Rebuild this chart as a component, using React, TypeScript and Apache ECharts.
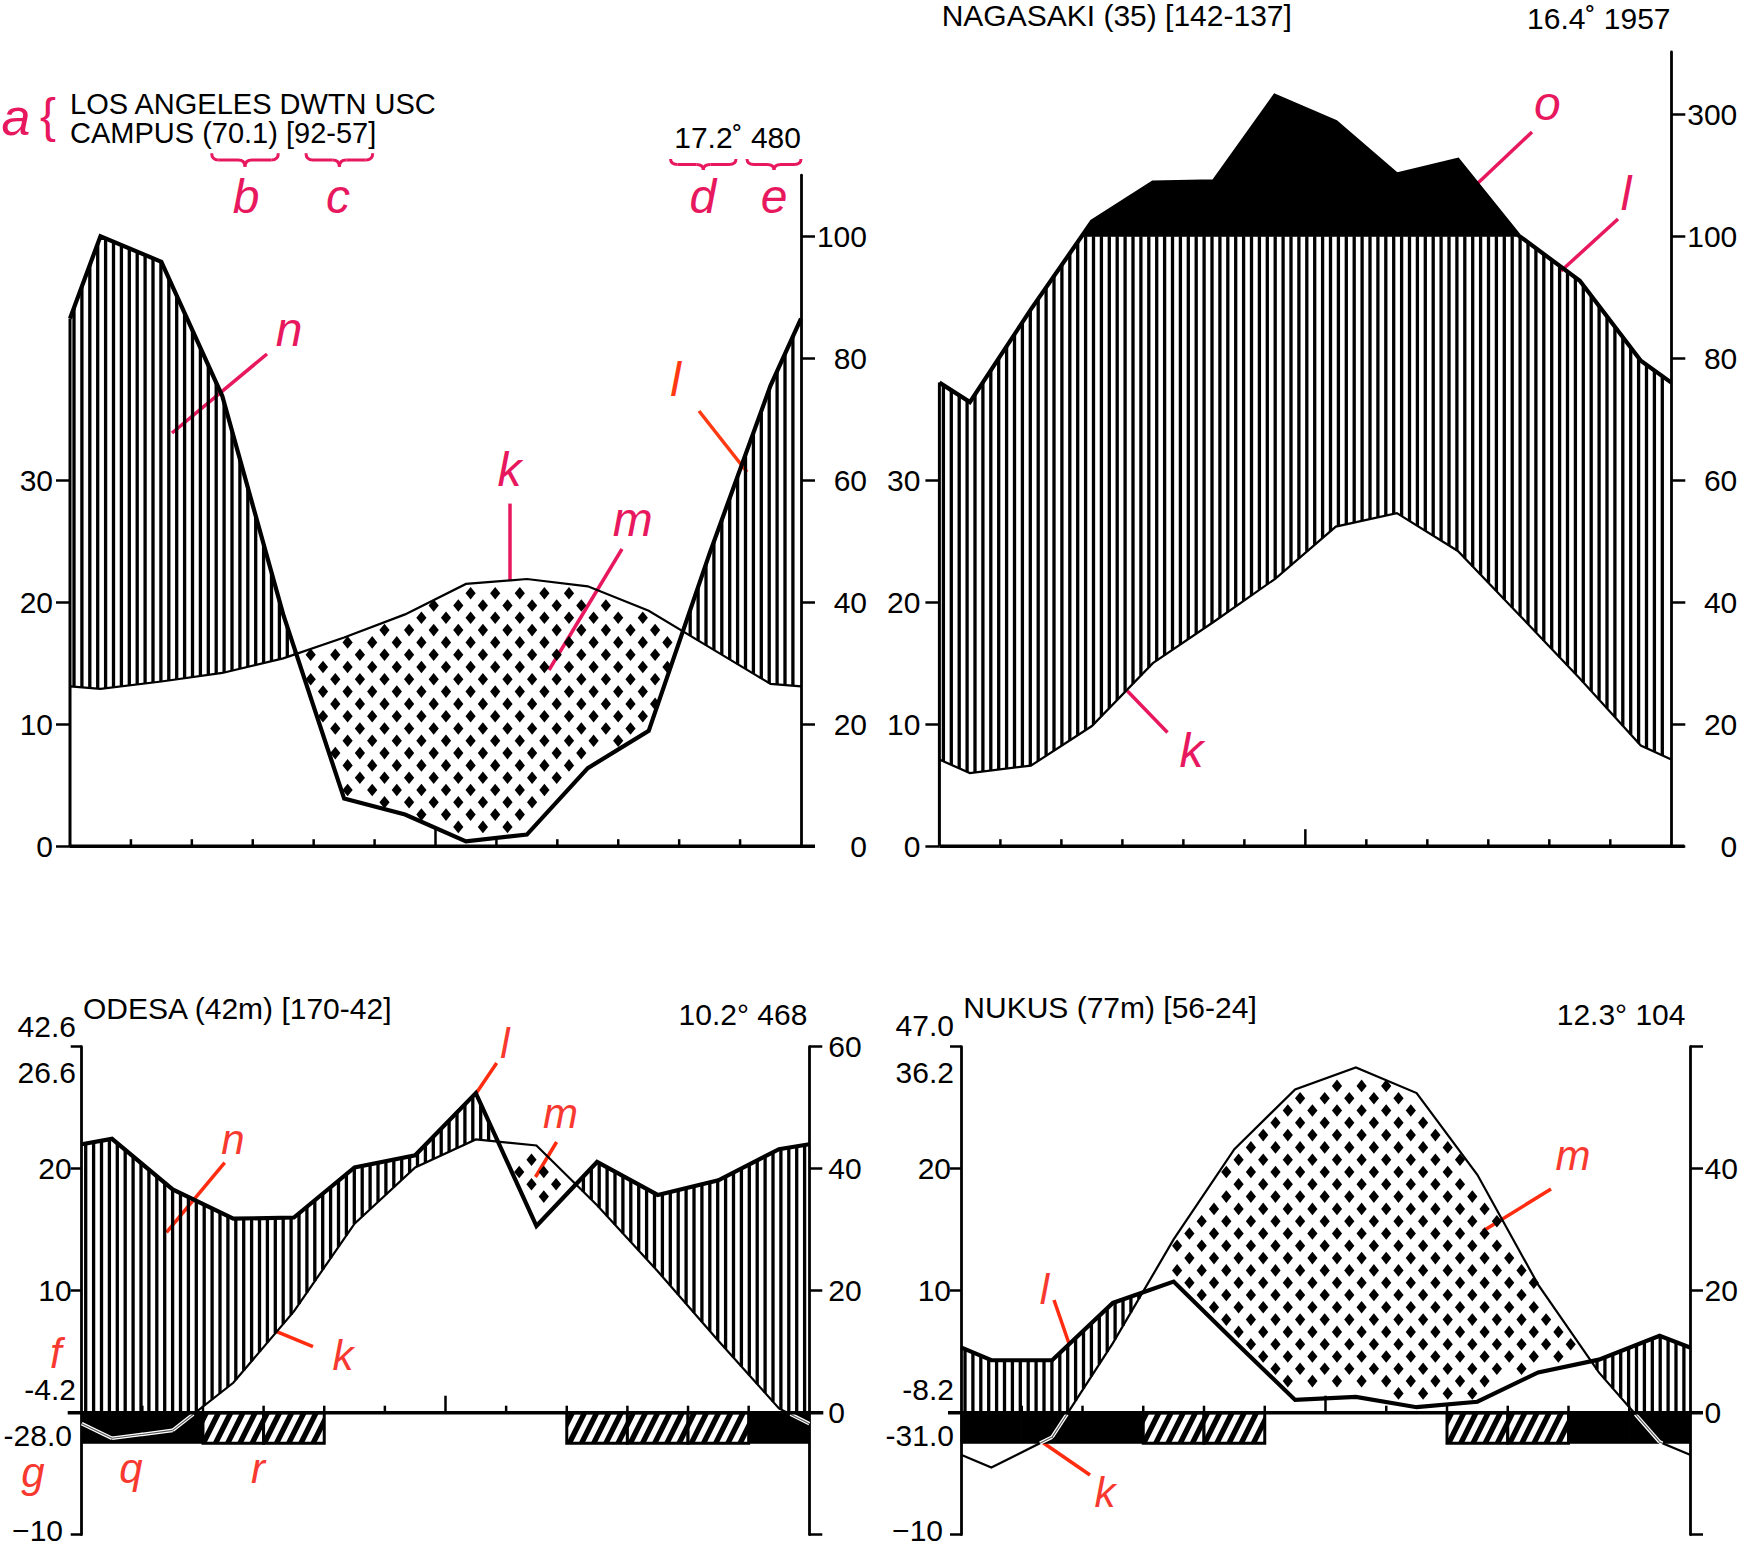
import React, { useEffect, useRef } from 'react';
import * as echarts from 'echarts';

const FONT = '"Liberation Sans", Arial, Helvetica, sans-serif';
const PINK = '#e8185e';
const ORANGE = '#ff3a12';
const RED = '#f8392f';
const RED_LINE = '#ff2c10';

// ---------------- data ----------------
const monthMid = [0.5, 1.5, 2.5, 3.5, 4.5, 5.5, 6.5, 7.5, 8.5, 9.5, 10.5, 11.5];

// Los Angeles: monthly mean temperature (°C) and precipitation (mm)
const laTemp = [12.9, 13.5, 14.2, 15.4, 17.1, 19.0, 21.5, 21.9, 21.3, 19.3, 16.3, 13.3];
const laPrec = [100, 95.8, 73.8, 38, 7.8, 5.2, 0.8, 1.9, 12.8, 18.9, 48, 75.5];
const laEdge = [13.1, 86.5]; // value drawn at both year edges [temp, prec]

// Nagasaki
const ngTemp = [6.0, 6.6, 9.85, 15.0, 18.4, 21.9, 26.2, 27.3, 24.2, 19.0, 13.75, 8.25];
const ngPrec = [72.8, 88, 124, 188, 190, 330, 287, 201, 225, 101, 92.7, 79.6];
const ngEdge = [7.1, 76];

// Odesa
const odTemp = [-2.1, -1.45, 2.45, 8.3, 15.5, 20.1, 22.4, 21.9, 17.0, 11.6, 5.9, 0.35];
const odPrec = [44.9, 36.6, 31.8, 32.0, 40.2, 42.2, 52.4, 30.6, 41.1, 35.7, 38.1, 43.2];
const odEdge = [-0.9, 44];
const odFrost = ['b', 'b', 'h', 'h', '', '', '', '', 'h', 'h', 'h', 'b'];

// Nukus
const nkTemp = [-4.5, -2.0, 5.7, 14.2, 21.6, 26.5, 28.3, 26.2, 19.5, 10.5, 3.3, -2.4];
const nkPrec = [8.6, 8.6, 18, 21.5, 11.7, 2.1, 2.6, 0.9, 1.8, 6.6, 8.7, 12.6];
const nkEdge = [-3.45, 10.7];
const nkFrost = ['b', 'b', 'b', 'h', 'h', '', '', '', 'h', 'h', 'b', 'b'];

// precipitation -> temperature units (10°C = 20 mm, above 100 mm reduced 1:10)
const toU = (p: number) => (p <= 100 ? p / 2 : 50 + (p - 100) / 20);
const uLabel = (u: number) => String(Math.round(u <= 50 ? u * 2 : 100 + (u - 50) * 20));

// ---------------- geometry helpers ----------------
function regions(px: number[], a: number[], b: number[]) {
  const polys: number[][][] = [];
  let up: number[][] = [], lo: number[][] = [];
  for (let i = 0; i < px.length; i++) {
    const d = a[i] - b[i];
    if (d > 0) { up.push([px[i], a[i]]); lo.push([px[i], b[i]]); }
    if (i < px.length - 1) {
      const d2 = a[i + 1] - b[i + 1];
      if ((d > 0) !== (d2 > 0) && d !== d2) {
        const t = d / (d - d2);
        const xc = px[i] + t * (px[i + 1] - px[i]);
        const uc = a[i] + t * (a[i + 1] - a[i]);
        up.push([xc, uc]); lo.push([xc, uc]);
        if (d > 0) { polys.push(up.concat(lo.reverse())); up = []; lo = []; }
      }
    }
  }
  if (up.length) polys.push(up.concat(lo.reverse()));
  return polys;
}

function clipSeg(x1: number, y1: number, x2: number, y2: number, xmin: number, xmax: number, ymin: number, ymax: number) {
  let t0 = 0, t1 = 1;
  const dx = x2 - x1, dy = y2 - y1;
  const p = [-dx, dx, -dy, dy];
  const q = [x1 - xmin, xmax - x1, y1 - ymin, ymax - y1];
  for (let i = 0; i < 4; i++) {
    if (p[i] === 0) { if (q[i] < 0) return null; }
    else {
      const r = q[i] / p[i];
      if (p[i] < 0) { if (r > t1) return null; if (r > t0) t0 = r; }
      else { if (r < t0) return null; if (r < t1) t1 = r; }
    }
  }
  return [x1 + t0 * dx, y1 + t0 * dy, x1 + t1 * dx, y1 + t1 * dy];
}

function clipPolyX(poly: number[][], xmin: number, xmax: number) {
  const clip = (pts: number[][], inside: (p: number[]) => boolean, X: number) => {
    const out: number[][] = [];
    const inter = (a: number[], b: number[]) => {
      const t = (X - a[0]) / (b[0] - a[0]);
      return [X, a[1] + t * (b[1] - a[1])];
    };
    for (let i = 0; i < pts.length; i++) {
      const a = pts[i], b = pts[(i + 1) % pts.length];
      const ia = inside(a), ib = inside(b);
      if (ia) { out.push(a); if (!ib) out.push(inter(a, b)); }
      else if (ib) out.push(inter(a, b));
    }
    return out;
  };
  let r = clip(poly, (p) => p[0] >= xmin, xmin);
  if (r.length) r = clip(r, (p) => p[0] <= xmax, xmax);
  return r;
}

type PanelData = {
  temp: number[]; prec: number[]; edge: number[]; frost?: string[];
  ext: number[]; leftEdge: boolean;
};

function makeRender(d: PanelData) {
  return function (_params: any, api: any) {
    const c = (x: number, u: number) => api.coord([x, u]);
    const xv = [0, ...monthMid, 12];
    const T = [d.edge[0], ...d.temp, d.edge[0]];
    const Pu = [d.edge[1], ...d.prec, d.edge[1]].map(toU);
    const px = xv.map((x) => c(x, 0)[0]);
    const n = px.length;
    const y0 = c(0, 0)[1];
    const k = y0 - c(0, 1)[1];
    const yOf = (u: number) => y0 - u * k;
    const interp = (vals: number[], x: number) => {
      for (let i = 0; i < n - 1; i++) {
        if (x <= px[i + 1]) {
          const t = (x - px[i]) / (px[i + 1] - px[i]);
          return vals[i] + t * (vals[i + 1] - vals[i]);
        }
      }
      return vals[n - 1];
    };
    const ch: any[] = [];

    // humid period: vertical hatching
    for (let x = px[0] + 4; x < px[n - 1] - 1.5; x += 7.9) {
      const t = interp(T, x);
      const p = Math.min(interp(Pu, x), 50);
      const lo = Math.max(t, 0);
      if (p > lo + 0.05) {
        ch.push({ type: 'line', shape: { x1: x, y1: yOf(p), x2: x, y2: yOf(lo) }, style: { stroke: '#000', lineWidth: 3.3 } });
      }
    }

    // arid period: dots
    const gx = 24.6, gy = 12.3;
    for (let r = 0; r < 60; r++) {
      const yp = y0 - 7 - r * gy;
      const u = (y0 - yp) / k;
      if (u > 45) break;
      const off = (r % 2) * gx / 2;
      for (let xp = px[0] + 7 + off; xp < px[n - 1] - 3; xp += gx) {
        const t = interp(T, xp), p = interp(Pu, xp);
        if (t > p && u < t - 0.4 && u > Math.max(p, 0) + 0.55) {
          ch.push({
            type: 'polygon',
            shape: { points: [[xp, yp - 6.3], [xp + 5.1, yp], [xp, yp + 6.3], [xp - 5.1, yp]] },
            style: { fill: '#000', stroke: 'none' },
          });
        }
      }
    }

    // above 100 mm: black
    regions(px, Pu, Pu.map(() => 50)).forEach((poly) => {
      ch.push({
        type: 'polygon',
        shape: { points: poly.map(([x, u]) => [x, yOf(u)]) },
        style: { fill: '#000', stroke: '#000', lineWidth: 1 },
      });
    });

    // frost bars
    const barTop = y0, barBot = yOf(-2.5);
    const blackRects: number[][] = [];
    if (d.frost) {
      d.frost.forEach((f, i) => {
        if (!f) return;
        const xl = c(i, 0)[0], xr = c(i + 1, 0)[0];
        if (f === 'b') {
          ch.push({ type: 'rect', shape: { x: xl, y: barTop, width: xr - xl, height: barBot - barTop }, style: { fill: '#000', stroke: '#000', lineWidth: 1 } });
          blackRects.push([xl, xr]);
        } else {
          ch.push({ type: 'rect', shape: { x: xl, y: barTop, width: xr - xl, height: barBot - barTop }, style: { fill: '#fff', stroke: 'none' } });
          const h = barBot - barTop, slant = h * 0.5, per = 12.2, w = 6;
          for (let s = px[0] - 40; s < xr; s += per) {
            if (s + w + slant < xl) continue;
            const poly = clipPolyX([[s, barBot], [s + w, barBot], [s + w + slant, barTop], [s + slant, barTop]], xl, xr);
            if (poly.length > 2) ch.push({ type: 'polygon', shape: { points: poly }, style: { fill: '#000', stroke: 'none' } });
          }
          ch.push({ type: 'rect', shape: { x: xl, y: barTop, width: xr - xl, height: h }, style: { fill: 'none', stroke: '#000', lineWidth: 3 } });
        }
      });
    }

    // temperature curve
    ch.push({
      type: 'polyline',
      shape: { points: px.map((x, i) => [x, yOf(T[i])]) },
      style: { stroke: '#000', lineWidth: 2.2, fill: 'none' },
    });
    // temperature inside black frost bars: white double line
    blackRects.forEach(([xl, xr]) => {
      for (let i = 0; i < n - 1; i++) {
        const s = clipSeg(px[i], yOf(T[i]), px[i + 1], yOf(T[i + 1]), xl - 0.5, xr + 0.5, barTop + 1.5, barBot);
        if (!s) continue;
        ch.push({ type: 'line', shape: { x1: s[0], y1: s[1], x2: s[2], y2: s[3] }, style: { stroke: '#fff', lineWidth: 3.6 } });
        ch.push({ type: 'line', shape: { x1: s[0], y1: s[1], x2: s[2], y2: s[3] }, style: { stroke: '#555', lineWidth: 1.1 } });
      }
    });

    // precipitation curve
    ch.push({
      type: 'polyline',
      shape: { points: px.map((x, i) => [x, yOf(Pu[i])]) },
      style: { stroke: '#000', lineWidth: 4.2, fill: 'none', lineJoin: 'miter' },
    });

    // left edge of the diagram
    if (d.leftEdge) {
      ch.push({ type: 'line', shape: { x1: px[0], y1: y0, x2: px[0], y2: yOf(Math.max(T[0], Pu[0])) }, style: { stroke: '#000', lineWidth: 3 } });
    }

    // zero line and month ticks
    ch.push({ type: 'line', shape: { x1: px[0] - d.ext[0], y1: y0, x2: px[n - 1] + d.ext[1], y2: y0 }, style: { stroke: '#000', lineWidth: 3.6 } });
    for (let m = 1; m <= 11; m++) {
      const x = c(m, 0)[0];
      const len = m === 6 ? 17 : 7;
      ch.push({ type: 'line', shape: { x1: x, y1: y0, x2: x, y2: y0 - len }, style: { stroke: '#000', lineWidth: 2.5 } });
    }

    return { type: 'group', children: ch };
  };
}

// ---------------- layout ----------------
const panels = [
  { left: 70, top: 175.2, width: 731, height: 671, min: 0, max: 55 },
  { left: 939.4, top: 52, width: 731.9, height: 794.2, min: 0, max: 65.1 },
  { left: 81.7, top: 1046.7, width: 727.6, height: 488, min: -10, max: 30 },
  { left: 961, top: 1046.7, width: 729, height: 488, min: -10, max: 30 },
];

const panelData: PanelData[] = [
  { temp: laTemp, prec: laPrec, edge: laEdge, ext: [0, 14], leftEdge: true },
  { temp: ngTemp, prec: ngPrec, edge: ngEdge, ext: [0, 13], leftEdge: true },
  { temp: odTemp, prec: odPrec, edge: odEdge, frost: odFrost, ext: [14, 14], leftEdge: false },
  { temp: nkTemp, prec: nkPrec, edge: nkEdge, frost: nkFrost, ext: [13, 13], leftEdge: false },
];

const lbl = { color: '#000', fontSize: 30, fontFamily: FONT };
const tickStyle = { color: '#000', width: 2.5 };
const axLine = { show: true, onZero: false, lineStyle: { color: '#000', width: 2.8 } };

function yAxes() {
  const ax: any[] = [];
  // LA
  ax.push({
    type: 'value', gridIndex: 0, position: 'left', min: 0, max: 55,
    axisLine: { show: false, onZero: false }, splitLine: { show: false },
    axisTick: { show: true, length: 14, customValues: [0, 10, 20, 30], lineStyle: tickStyle },
    axisLabel: { show: true, customValues: [0, 10, 20, 30], margin: 17, ...lbl },
  });
  ax.push({
    type: 'value', gridIndex: 0, position: 'right', min: 0, max: 55,
    axisLine: axLine, splitLine: { show: false },
    axisTick: { show: true, length: 14, customValues: [0, 10, 20, 30, 40, 50], lineStyle: tickStyle },
    axisLabel: { show: true, customValues: [0, 10, 20, 30, 40, 50], formatter: uLabel, align: 'right', margin: 66, ...lbl },
  });
  // Nagasaki
  ax.push({
    type: 'value', gridIndex: 1, position: 'left', min: 0, max: 65.1,
    axisLine: { show: false, onZero: false }, splitLine: { show: false },
    axisTick: { show: true, length: 14, customValues: [0, 10, 20, 30], lineStyle: tickStyle },
    axisLabel: { show: true, customValues: [0, 10, 20, 30], margin: 19, ...lbl },
  });
  ax.push({
    type: 'value', gridIndex: 1, position: 'right', min: 0, max: 65.1,
    axisLine: axLine, splitLine: { show: false },
    axisTick: { show: true, length: 14, customValues: [0, 10, 20, 30, 40, 50, 60], lineStyle: tickStyle },
    axisLabel: { show: true, customValues: [0, 10, 20, 30, 40, 50, 60], formatter: uLabel, align: 'right', margin: 66, ...lbl },
  });
  // Odesa & Nukus
  [2, 3].forEach((g) => {
    ax.push({
      type: 'value', gridIndex: g, position: 'left', min: -10, max: 30,
      axisLine: axLine, splitLine: { show: false },
      axisTick: { show: true, length: 11, customValues: [-10, 10, 20, 30], lineStyle: tickStyle },
      axisLabel: { show: true, customValues: [10, 20], margin: 10, ...lbl },
    });
    ax.push({
      type: 'value', gridIndex: g, position: 'right', min: -10, max: 30,
      axisLine: axLine, splitLine: { show: false },
      axisTick: { show: true, length: 13, customValues: [-10, 0, 10, 20, 30], lineStyle: tickStyle },
      axisLabel: {
        show: true, customValues: g === 2 ? [0, 10, 20, 30] : [0, 10, 20],
        formatter: uLabel, align: 'left', margin: g === 2 ? 19 : 14.5, ...lbl,
      },
    });
  });
  return ax;
}

// ---------------- annotation graphics ----------------
function txt(text: string, x: number, baseline: number, size: number, align = 'left', color = '#000', italic = false) {
  return {
    type: 'text', x, y: baseline - 0.3465 * size, silent: true,
    style: {
      text, fill: color, fontSize: size, fontFamily: FONT, fontStyle: italic ? 'italic' : 'normal',
      lineHeight: Math.round(size * (italic ? 0.78 : 0.88)),
      align, verticalAlign: 'middle', textAlign: align, textVerticalAlign: 'middle',
    },
  };
}
function seg(x1: number, y1: number, x2: number, y2: number, color: string, w = 3.5) {
  return { type: 'line', silent: true, shape: { x1, y1, x2, y2 }, style: { stroke: color, lineWidth: w } };
}
function hbrace(x0: number, x1: number, y: number, h: number, color: string) {
  const xc = (x0 + x1) / 2, r = Math.min(7, (x1 - x0) / 6), ym = y + h / 2;
  const st = { stroke: color, lineWidth: 3, fill: 'none' };
  return [
    { type: 'bezierCurve', silent: true, shape: { x1: x0, y1: y, x2: x0 + r, y2: ym, cpx1: x0, cpy1: ym }, style: st },
    { type: 'line', silent: true, shape: { x1: x0 + r, y1: ym, x2: xc - r, y2: ym }, style: st },
    { type: 'bezierCurve', silent: true, shape: { x1: xc - r, y1: ym, x2: xc, y2: y + h, cpx1: xc, cpy1: ym }, style: st },
    { type: 'bezierCurve', silent: true, shape: { x1: xc, y1: y + h, x2: xc + r, y2: ym, cpx1: xc, cpy1: ym }, style: st },
    { type: 'line', silent: true, shape: { x1: xc + r, y1: ym, x2: x1 - r, y2: ym }, style: st },
    { type: 'bezierCurve', silent: true, shape: { x1: x1 - r, y1: ym, x2: x1, y2: y, cpx1: x1, cpy1: ym }, style: st },
  ];
}

function graphics() {
  const g: any[] = [];
  const T = 30;
  // titles
  g.push(txt('LOS ANGELES DWTN USC', 70, 114.3, 29));
  g.push(txt('CAMPUS (70.1) [92-57]', 70, 143.3, 29));
  g.push(txt('17.2\u02DA 480', 801, 148.3, T, 'right'));
  g.push(txt('NAGASAKI (35) [142-137]', 941.7, 26, T));
  g.push(txt('16.4\u02DA 1957', 1670.5, 29, T, 'right'));
  g.push(txt('ODESA (42m) [170-42]', 83, 1019.3, T));
  g.push(txt('10.2\u00B0 468', 807.4, 1025, T, 'right'));
  g.push(txt('NUKUS (77m) [56-24]', 963.3, 1018, T));
  g.push(txt('12.3\u00B0 104', 1685.5, 1025.2, T, 'right'));
  // extreme values and bottom axis labels
  g.push(txt('42.6', 76, 1036.7, T, 'right'));
  g.push(txt('26.6', 76, 1083.3, T, 'right'));
  g.push(txt('-4.2', 76, 1400, T, 'right'));
  g.push(txt('-28.0', 72, 1445.5, T, 'right'));
  g.push(txt('\u221210', 63, 1541, T, 'right'));
  g.push(txt('47.0', 954, 1036, T, 'right'));
  g.push(txt('36.2', 954, 1083, T, 'right'));
  g.push(txt('-8.2', 954, 1399.5, T, 'right'));
  g.push(txt('-31.0', 954, 1445.5, T, 'right'));
  g.push(txt('\u221210', 943, 1541, T, 'right'));

  // red annotations: Los Angeles
  const L = 48;
  g.push(txt('a', 16, 135, 52, 'center', PINK, true));
  g.push(txt('{', 48, 132, 48, 'center', PINK));
  g.push(...hbrace(211.7, 278.3, 153.3, 13.4, PINK));
  g.push(...hbrace(306, 372.7, 153.3, 13.4, PINK));
  g.push(...hbrace(670.6, 736, 159, 11, PINK));
  g.push(...hbrace(747, 801, 159, 11, PINK));
  g.push(txt('b', 246, 213, L, 'center', PINK, true));
  g.push(txt('c', 338, 213, L, 'center', PINK, true));
  g.push(txt('d', 702.8, 213, L, 'center', PINK, true));
  g.push(txt('e', 774, 213, L, 'center', PINK, true));
  g.push(txt('n', 289, 346.4, L, 'center', PINK, true));
  g.push(seg(267, 354, 172, 433, PINK));
  g.push(txt('k', 509.5, 485.7, L, 'center', PINK, true));
  g.push(seg(510, 503.6, 510, 580, PINK));
  g.push(txt('m', 632.7, 535.7, L, 'center', PINK, true));
  g.push(seg(622, 549, 549, 670, PINK));
  g.push(txt('l', 675.5, 396.4, L, 'center', ORANGE, true));
  g.push(seg(699, 411, 747, 472, ORANGE));
  // Nagasaki
  g.push(txt('o', 1547.4, 120, L, 'center', PINK, true));
  g.push(seg(1532, 132, 1478, 183, PINK));
  g.push(txt('l', 1626, 210, L, 'center', PINK, true));
  g.push(seg(1618, 219, 1561, 271, PINK));
  g.push(txt('k', 1191.6, 767.5, L, 'center', PINK, true));
  g.push(seg(1167.5, 732.5, 1127.4, 691, PINK));
  // Odesa
  const S = 42;
  g.push(txt('n', 233, 1153.6, S, 'center', RED, true));
  g.push(seg(224.7, 1162.6, 166.5, 1232.4, RED_LINE));
  g.push(txt('l', 505, 1057.8, S, 'center', RED, true));
  g.push(seg(496.7, 1063, 474.5, 1095.7, RED_LINE));
  g.push(txt('m', 560.5, 1128.3, S, 'center', RED, true));
  g.push(seg(556.6, 1142, 535.5, 1177, RED_LINE));
  g.push(txt('k', 343, 1370, S, 'center', RED, true));
  g.push(seg(313, 1346.7, 276.7, 1331.7, RED_LINE));
  g.push(txt('f', 55.8, 1368.3, S, 'center', RED, true));
  g.push(txt('g', 33, 1487, S, 'center', RED, true));
  g.push(txt('q', 131, 1483, S, 'center', RED, true));
  g.push(txt('r', 258, 1483.3, S, 'center', RED, true));
  // Nukus
  g.push(txt('l', 1044.4, 1303.7, S, 'center', RED, true));
  g.push(seg(1054, 1300, 1069, 1343.5, RED_LINE));
  g.push(txt('m', 1573, 1169.9, S, 'center', RED, true));
  g.push(seg(1551, 1189, 1483, 1231, RED_LINE));
  g.push(txt('k', 1105, 1506.7, S, 'center', RED, true));
  g.push(seg(1090, 1475, 1041.7, 1441.7, RED_LINE));
  return g;
}

function buildOption() {
  return {
    animation: false,
    backgroundColor: '#ffffff',
    grid: panels.map((p) => ({
      left: p.left, top: p.top, width: p.width, height: p.height,
      containLabel: false, outerBoundsMode: 'none',
    })),
    xAxis: panels.map((_p, i) => ({ type: 'value', gridIndex: i, min: 0, max: 12, show: false })),
    yAxis: yAxes(),
    series: panelData.map((d, i) => ({
      type: 'custom',
      coordinateSystem: 'cartesian2d',
      xAxisIndex: i,
      yAxisIndex: 2 * i,
      data: [[0, 0]],
      silent: true,
      z: 3,
      renderItem: makeRender(d),
    })),
    graphic: { elements: graphics() },
  };
}

export default function App() {
  const ref = useRef<HTMLDivElement>(null);
  useEffect(() => {
    if (!ref.current) return;
    const chart = echarts.init(ref.current, null, { renderer: 'svg' });
    chart.setOption(buildOption() as any);
    return () => chart.dispose();
  }, []);
  return (
    <div
      ref={ref}
      style={{ position: 'absolute', left: 0, top: 0, width: 1739, height: 1547, background: '#fff' }}
    />
  );
}
